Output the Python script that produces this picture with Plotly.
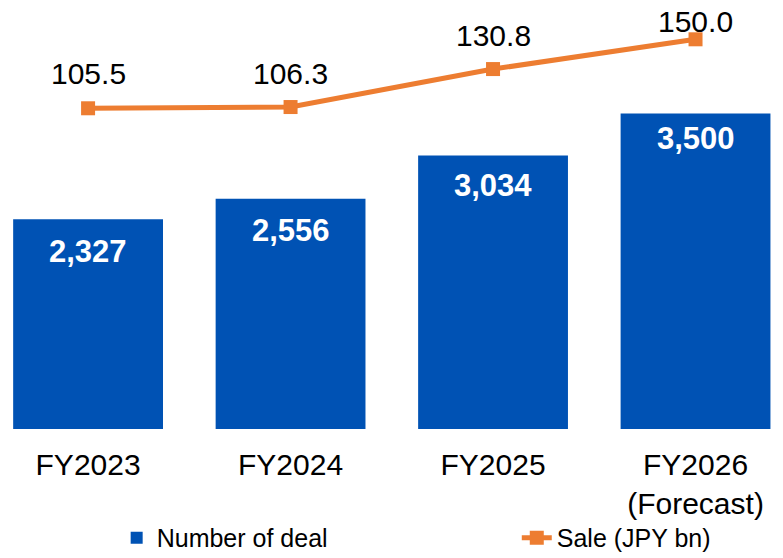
import plotly.graph_objects as go

categories = ["FY2023", "FY2024", "FY2025", "FY2026<br>(Forecast)"]
deals = [2327, 2556, 3034, 3500]
sales = [105.5, 106.3, 130.8, 150.0]
deal_labels = ["2,327", "2,556", "3,034", "3,500"]
sale_labels = ["105.5", "106.3", "130.8", "150.0"]

# label offsets (style only, in pixels)
deal_label_shift = [-32, -32, -30, -25]
sale_label_shift = [35, 34, 34, 18]

BLUE = "#0052B4"
ORANGE = "#ED7D31"
FONT = "Liberation Sans, Arial, sans-serif"

fig = go.Figure()
fig.add_trace(go.Bar(x=categories, y=deals, name="Number of deal",
                     marker=dict(color=BLUE, line=dict(width=0)), yaxis="y",
                     legend="legend"))
fig.add_trace(go.Scatter(x=categories, y=sales, name="Sale (JPY bn)", mode="lines+markers",
                         line=dict(color=ORANGE, width=5),
                         marker=dict(symbol="square", size=14, color=ORANGE),
                         yaxis="y2", legend="legend2"))

annotations = []
for c, v, t, s in zip(categories, deals, deal_labels, deal_label_shift):
    annotations.append(dict(x=c, y=v, xref="x", yref="y", text="<b>" + t + "</b>",
                            showarrow=False, yshift=s,
                            font=dict(family=FONT, size=31, color="white")))
for c, v, t, s in zip(categories, sales, sale_labels, sale_label_shift):
    annotations.append(dict(x=c, y=v, xref="x", yref="y2", text=t,
                            showarrow=False, yshift=s,
                            font=dict(family=FONT, size=30, color="black")))

legend_common = dict(orientation="h", y=-0.26, yanchor="middle",
                     font=dict(size=25, family=FONT, color="black"),
                     bgcolor="rgba(0,0,0,0)", xanchor="left")

fig.update_layout(
    width=783, height=558,
    margin=dict(l=0, r=0, t=10, b=129, autoexpand=False),
    plot_bgcolor="white", paper_bgcolor="white",
    bargap=0.26,
    showlegend=True,
    font=dict(family=FONT, size=30, color="black"),
    xaxis=dict(type="category", range=[-0.435, 3.432], showgrid=False, showline=False,
               zeroline=False, ticks="", ticklabelstandoff=15,
               tickfont=dict(size=30, family=FONT, color="black")),
    yaxis=dict(range=[0, 4650], visible=False, showgrid=False),
    yaxis2=dict(range=[-101.4, 168.9], overlaying="y", side="right", visible=False, showgrid=False),
    legend=dict(x=0.149, **legend_common),
    legend2=dict(x=0.66, **legend_common),
    annotations=annotations,
)

fig.write_html("out.html", config={"displayModeBar": False},
               post_script="document.body.style.margin='0';document.body.style.overflow='hidden';")
